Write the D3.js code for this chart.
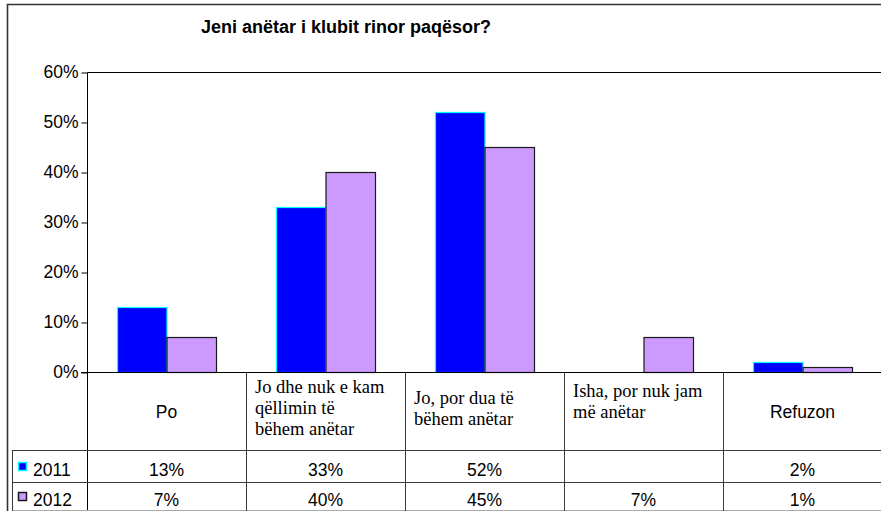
<!DOCTYPE html>
<html>
<head>
<meta charset="utf-8">
<script src="https://cdn.jsdelivr.net/npm/d3@7"></script>
<style>
  body { margin: 0; background: #fff; }
  svg { display: block; }
</style>
</head>
<body>
<div id="root"></div>
<script>
const width = 881;
const height = 511;

const title = "Jeni anëtar i klubit rinor paqësor?";
const categories = ["Po", "Jo dhe nuk e kam qëllimin të bëhem anëtar", "Jo, por dua të bëhem anëtar", "Isha, por nuk jam më anëtar", "Refuzon"];
// wrapped header text, as it appears in the table
const labelLines = [["Po"], ["Jo dhe nuk e kam", "qëllimin të", "bëhem anëtar"], ["Jo, por dua të", "bëhem anëtar"], ["Isha, por nuk jam", "më anëtar"], ["Refuzon"]];
const serifLabel = [false, true, true, true, false];
const seriesNames = ["2011", "2012"];
const values2011 = [0.13, 0.33, 0.52, null, 0.02];
const values2012 = [0.07, 0.40, 0.45, 0.07, 0.01];
const yTicks = [0, 0.1, 0.2, 0.3, 0.4, 0.5, 0.6];

const fills = ["#0000ff", "#cc99ff"];
const strokes = ["#00ffff", "#1a1a1a"];

const plot = { left: 87, top: 72, right: 882, bottom: 372 };
const table = { left: 12, headBottom: 450, rowMid: 482, bottom: 511 };
const lineColor = "#3a3a3a";

const svg = d3.select("#root").append("svg")
  .attr("width", width)
  .attr("height", height);

// outer frame
svg.append("path")
  .attr("d", `M7.5 ${height} V4.5 H${width}`)
  .attr("fill", "none")
  .attr("stroke", "#333")
  .attr("stroke-width", 1.6);

svg.append("text")
  .attr("x", 346)
  .attr("y", 33)
  .attr("text-anchor", "middle")
  .style("font-family", "'Liberation Sans', Arial, sans-serif")
  .style("font-weight", "bold")
  .style("font-size", "18px")
  .text(title);

const x = d3.scaleBand()
  .domain(categories)
  .range([plot.left, plot.right])
  .paddingInner(0)
  .paddingOuter(0);

const xs = d3.scaleBand()
  .domain(seriesNames)
  .range([0, x.bandwidth()])
  .paddingInner(0)
  .paddingOuter(0.606);

const y = d3.scaleLinear()
  .domain([0, 0.6])
  .range([plot.bottom, plot.top]);

const pct = d3.format(".0%");

// y axis
const yAxis = svg.append("g")
  .attr("transform", `translate(${plot.left + 0.5},0)`)
  .call(d3.axisLeft(y).tickValues(yTicks).tickFormat(pct).tickSize(6).tickPadding(3));
yAxis.select(".domain").remove();
yAxis.selectAll(".tick line").attr("stroke", "#000").attr("transform", "translate(0,0.5)");
yAxis.selectAll(".tick text")
  .style("font-family", "'Liberation Sans', Arial, sans-serif")
  .style("font-size", "17.5px")
  .attr("fill", "#000");

// plot area top and left
svg.append("path")
  .attr("d", `M${plot.left + 0.5} ${table.bottom} V${plot.top + 0.5} H${width}`)
  .attr("fill", "none")
  .attr("stroke", "#000");

// bars
const series = [values2011, values2012];
series.forEach((vals, si) => {
  svg.append("g")
    .selectAll("rect")
    .data(categories.map((c, i) => ({ cat: c, v: vals[i] })).filter(d => d.v != null))
    .enter()
    .append("rect")
      .attr("x", d => x(d.cat) + xs(seriesNames[si]) + 0.5)
      .attr("y", d => y(d.v) + 0.5)
      .attr("width", xs.bandwidth())
      .attr("height", d => y(0) - y(d.v))
      .attr("fill", fills[si])
      .attr("stroke", strokes[si])
      .attr("stroke-width", 1.2);
});

// baseline
svg.append("line")
  .attr("x1", plot.left - 6).attr("x2", width)
  .attr("y1", plot.bottom + 0.5).attr("y2", plot.bottom + 0.5)
  .attr("stroke", "#000");

// data table grid
const grid = svg.append("g").attr("stroke", lineColor).attr("fill", "none");
grid.selectAll(".hline")
  .data([table.headBottom, table.rowMid])
  .enter().append("line")
    .attr("x1", table.left).attr("x2", width)
    .attr("y1", d => d + 0.5).attr("y2", d => d + 0.5);
grid.append("line")
  .attr("x1", table.left).attr("x2", width)
  .attr("y1", table.bottom - 0.5).attr("y2", table.bottom - 0.5)
  .attr("stroke", "#aaa");
grid.append("line")
  .attr("x1", table.left + 0.5).attr("x2", table.left + 0.5)
  .attr("y1", table.headBottom).attr("y2", table.bottom);
grid.selectAll(".vline")
  .data(categories.slice(1))
  .enter().append("line")
    .attr("x1", d => Math.round(x(d)) + 0.5).attr("x2", d => Math.round(x(d)) + 0.5)
    .attr("y1", plot.bottom).attr("y2", table.bottom);

// header labels
const heads = svg.append("g")
  .selectAll("g")
  .data(categories)
  .enter().append("g");

heads.each(function (c, i) {
  const g = d3.select(this);
  const lines = labelLines[i];
  if (serifLabel[i]) {
    const lh = 21;
    const startY = lines.length === 3 ? 393 : (i === 2 ? 404 : 397);
    g.selectAll("text")
      .data(lines)
      .enter().append("text")
        .attr("x", x(c) + 9)
        .attr("y", (d, k) => startY + k * lh)
        .style("font-family", "'Liberation Serif', 'Times New Roman', serif")
        .style("font-size", "18.5px")
        .text(d => d);
  } else {
    g.append("text")
      .attr("x", x(c) + x.bandwidth() / 2)
      .attr("y", 418)
      .attr("text-anchor", "middle")
      .style("font-family", "'Liberation Sans', Arial, sans-serif")
      .style("font-size", "17.5px")
      .text(lines[0]);
  }
});

// table rows
const rowBaselines = [476, 506];
series.forEach((vals, si) => {
  const row = svg.append("g");
  row.append("rect")
    .attr("x", 18.5).attr("y", rowBaselines[si] - 13.5)
    .attr("width", 8).attr("height", 8)
    .attr("fill", fills[si])
    .attr("stroke", strokes[si])
    .attr("stroke-width", 1.5);
  row.append("text")
    .attr("x", 33)
    .attr("y", rowBaselines[si])
    .style("font-family", "'Liberation Sans', Arial, sans-serif")
    .style("font-size", "17.5px")
    .text(seriesNames[si]);
  row.selectAll(".val")
    .data(categories.map((c, i) => ({ cat: c, v: vals[i] })))
    .enter().append("text")
      .attr("x", d => x(d.cat) + x.bandwidth() / 2)
      .attr("y", rowBaselines[si])
      .attr("text-anchor", "middle")
      .style("font-family", "'Liberation Sans', Arial, sans-serif")
      .style("font-size", "17.5px")
      .text(d => d.v == null ? "" : pct(d.v));
});
</script>
</body>
</html>
